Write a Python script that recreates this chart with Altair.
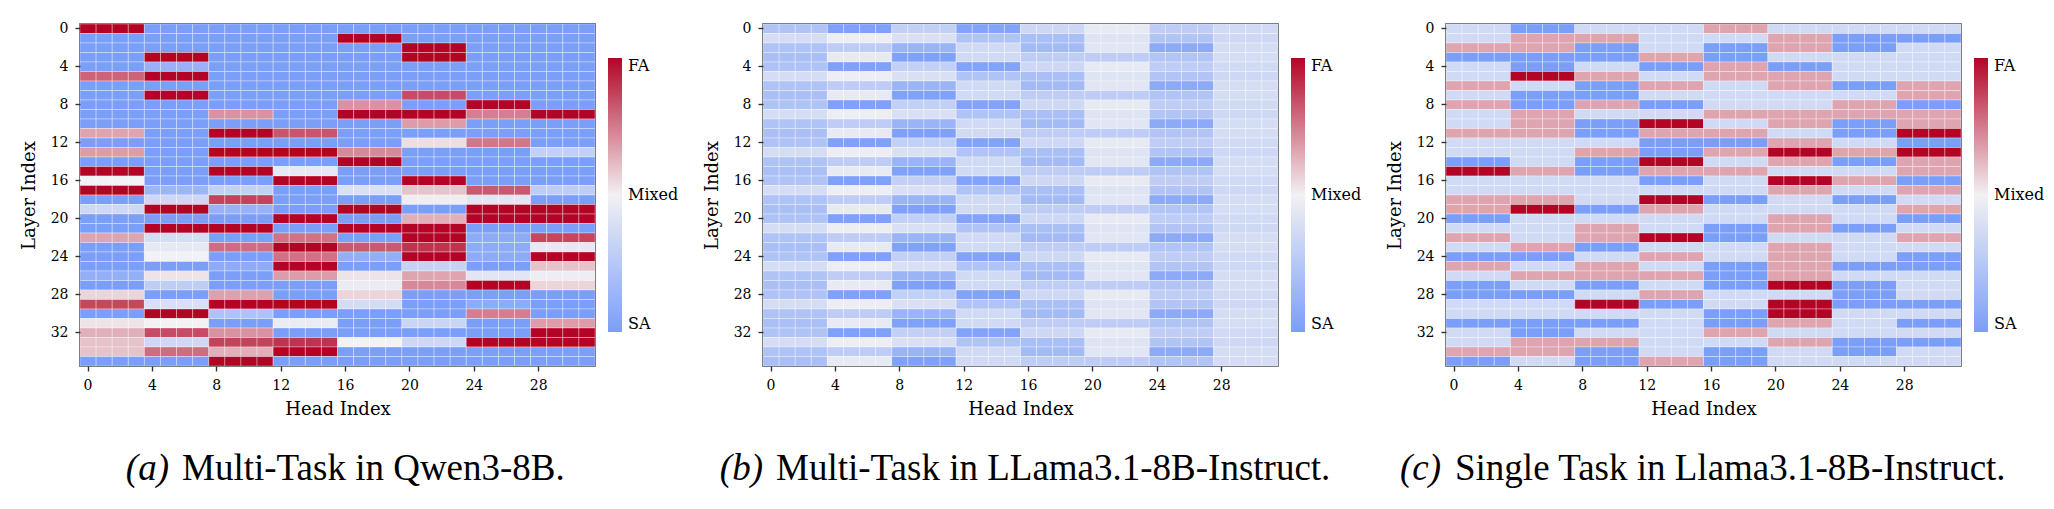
import pandas as pd
import altair as alt

# attention-type maps: 36 layers x 8 KV-head groups (4 query heads each)
# 0 = SA, 0.5 = Mixed, 1 = FA
N_LAYERS = 36
GROUP_SIZE = 4
HEAD_TICKS = [0, 4, 8, 12, 16, 20, 24, 28]
LAYER_TICKS = [0, 4, 8, 12, 16, 20, 24, 28, 32]

qwen_multi = [
    [1, 0, 0, 0, 0, 0, 0, 0],
    [0, 0, 0, 0, 1, 0, 0, 0],
    [0, 0, 0, 0, 0, 1, 0, 0],
    [0, 1, 0, 0, 0, 1, 0, 0],
    [0, 0.12, 0, 0, 0, 0, 0, 0],
    [0.8, 1, 0, 0, 0, 0, 0, 0],
    [0, 0, 0, 0, 0, 0, 0, 0],
    [0, 1, 0, 0, 0, 0.85, 0, 0],
    [0, 0, 0, 0, 0.7, 0, 1, 0],
    [0, 0, 0.7, 0, 1, 1, 0.74, 1],
    [0, 0, 0, 0, 0, 0.68, 0, 0],
    [0.66, 0, 1, 0.83, 0, 0, 0, 0],
    [0, 0, 0, 0, 0, 0.54, 0.76, 0],
    [0.68, 0, 1, 1, 0.72, 0, 0, 0.3],
    [0, 0, 0, 0, 1, 0, 0, 0],
    [1, 0, 1, 0.45, 0, 0, 0, 0],
    [0.5, 0, 0, 1, 0, 1, 0, 0],
    [1, 0.14, 0.3, 0, 0.4, 0.6, 0.82, 0.28],
    [0, 0.35, 0.87, 0, 0, 0.51, 0.43, 0],
    [0.35, 1, 0.12, 0, 1, 0, 1, 1],
    [0, 0, 0, 1, 0, 0.64, 1, 1],
    [0, 1, 1, 0, 1, 1, 0, 0],
    [0.66, 0.38, 0, 0.77, 0, 1, 0.08, 0.86],
    [0, 0.45, 0.78, 1, 0.82, 0.9, 0.08, 0.45],
    [0, 0.5, 0, 0.77, 0.1, 1, 0.08, 1],
    [0, 0, 0.08, 1, 0, 0.32, 0, 0.6],
    [0.1, 0.53, 0, 0.68, 0.53, 0.66, 0.43, 0.48],
    [0, 0.28, 0, 0, 0.47, 0.72, 1, 0.56],
    [0.56, 0, 0.67, 0, 0.56, 0, 0, 0],
    [0.86, 0.4, 1, 1, 0.37, 0, 0.08, 0],
    [0, 1, 0.22, 0, 0, 0, 0.74, 0],
    [0.53, 0.5, 0, 0.47, 0, 0.33, 0, 0.68],
    [0.64, 0.85, 0.7, 0, 0, 0, 0, 1],
    [0.6, 0.35, 0.87, 0.9, 0.5, 0.35, 1, 1],
    [0.6, 0.78, 0.64, 1, 0, 0, 0, 0],
    [0, 0, 1, 0, 0, 0, 0, 0],
]

llama_multi = [
    [0.22, 0.02, 0.3, 0.03, 0.35, 0.46, 0.28, 0.36],
    [0.38, 0.48, 0.4, 0.22, 0.2, 0.42, 0.23, 0.35],
    [0.22, 0.28, 0.13, 0.36, 0.17, 0.43, 0.07, 0.38],
    [0.2, 0.46, 0.02, 0.36, 0.28, 0.28, 0.23, 0.38],
    [0.22, 0.02, 0.3, 0.03, 0.35, 0.46, 0.28, 0.36],
    [0.38, 0.48, 0.4, 0.22, 0.2, 0.42, 0.23, 0.35],
    [0.22, 0.28, 0.13, 0.36, 0.17, 0.43, 0.07, 0.38],
    [0.2, 0.46, 0.02, 0.36, 0.28, 0.28, 0.23, 0.38],
    [0.22, 0.02, 0.3, 0.03, 0.35, 0.46, 0.28, 0.36],
    [0.38, 0.48, 0.4, 0.22, 0.2, 0.42, 0.23, 0.35],
    [0.22, 0.28, 0.13, 0.36, 0.17, 0.43, 0.07, 0.38],
    [0.2, 0.46, 0.02, 0.36, 0.28, 0.28, 0.23, 0.38],
    [0.22, 0.02, 0.3, 0.03, 0.35, 0.46, 0.28, 0.36],
    [0.38, 0.48, 0.4, 0.22, 0.2, 0.42, 0.23, 0.35],
    [0.22, 0.28, 0.13, 0.36, 0.17, 0.43, 0.07, 0.38],
    [0.2, 0.46, 0.02, 0.36, 0.28, 0.28, 0.23, 0.38],
    [0.22, 0.02, 0.3, 0.03, 0.35, 0.46, 0.28, 0.36],
    [0.38, 0.48, 0.4, 0.22, 0.2, 0.42, 0.23, 0.35],
    [0.22, 0.28, 0.13, 0.36, 0.17, 0.43, 0.07, 0.38],
    [0.2, 0.46, 0.02, 0.36, 0.28, 0.28, 0.23, 0.38],
    [0.22, 0.02, 0.3, 0.03, 0.35, 0.46, 0.28, 0.36],
    [0.38, 0.48, 0.4, 0.22, 0.2, 0.42, 0.23, 0.35],
    [0.22, 0.28, 0.13, 0.36, 0.17, 0.43, 0.07, 0.38],
    [0.2, 0.46, 0.02, 0.36, 0.28, 0.28, 0.23, 0.38],
    [0.22, 0.02, 0.3, 0.03, 0.35, 0.46, 0.28, 0.36],
    [0.38, 0.48, 0.4, 0.22, 0.2, 0.42, 0.23, 0.35],
    [0.22, 0.28, 0.13, 0.36, 0.17, 0.43, 0.07, 0.38],
    [0.2, 0.46, 0.02, 0.36, 0.28, 0.28, 0.23, 0.38],
    [0.22, 0.02, 0.3, 0.03, 0.35, 0.46, 0.28, 0.36],
    [0.38, 0.48, 0.4, 0.22, 0.2, 0.42, 0.23, 0.35],
    [0.22, 0.28, 0.13, 0.36, 0.17, 0.43, 0.07, 0.38],
    [0.2, 0.46, 0.02, 0.36, 0.28, 0.28, 0.23, 0.38],
    [0.22, 0.02, 0.3, 0.03, 0.35, 0.46, 0.28, 0.36],
    [0.38, 0.48, 0.4, 0.22, 0.2, 0.42, 0.23, 0.35],
    [0.22, 0.28, 0.13, 0.36, 0.17, 0.43, 0.07, 0.38],
    [0.2, 0.46, 0.02, 0.36, 0.28, 0.28, 0.23, 0.38],
]

llama_single = [
    [0.36, 0, 0.36, 0.36, 0.66, 0.36, 0.36, 0.36],
    [0.36, 0.66, 0.66, 0.36, 0.36, 0.66, 0, 0],
    [0.66, 0.66, 0, 0.36, 0, 0.66, 0, 0.36],
    [0, 0, 0, 0.66, 0, 0.36, 0.36, 0.36],
    [0.36, 0, 0.36, 0, 0.66, 0, 0.36, 0.36],
    [0.36, 1, 0.66, 0.36, 0.66, 0.66, 0.36, 0.36],
    [0.66, 0.36, 0, 0.66, 0.36, 0.66, 0, 0.66],
    [0.36, 0, 0, 0.36, 0.36, 0.36, 0.36, 0.66],
    [0.66, 0, 0.66, 0, 0.36, 0.36, 0.66, 0],
    [0.36, 0.66, 0.36, 0.36, 0.66, 0.66, 0.66, 0.66],
    [0.36, 0.66, 0, 1, 0.36, 0.66, 0, 0.66],
    [0.66, 0.66, 0, 0.66, 0.66, 0.36, 0, 1],
    [0.36, 0.36, 0.36, 0, 0, 0.66, 0.36, 0],
    [0.36, 0.36, 0.66, 0, 0.66, 1, 0.66, 1],
    [0, 0.36, 0, 1, 0.36, 0.66, 0, 0.66],
    [1, 0.66, 0, 0.66, 0.66, 0.36, 0.36, 0.66],
    [0.36, 0.36, 0.36, 0, 0.36, 1, 0.66, 0],
    [0.36, 0.36, 0.36, 0.36, 0.36, 0.66, 0.36, 0.66],
    [0.66, 0.66, 0.36, 1, 0, 0.36, 0, 0.36],
    [0.66, 1, 0, 0.66, 0.36, 0.36, 0.36, 0.66],
    [0, 0.36, 0.36, 0.36, 0.36, 0.66, 0.36, 0],
    [0.36, 0.36, 0.66, 0.36, 0, 0.66, 0, 0.36],
    [0.66, 0.36, 0.66, 1, 0, 0.36, 0.36, 0.66],
    [0.36, 0.66, 0, 0.36, 0.36, 0.66, 0.36, 0.36],
    [0, 0, 0.36, 0.66, 0.36, 0.66, 0.36, 0],
    [0.66, 0.36, 0.66, 0.36, 0, 0.66, 0, 0],
    [0.36, 0.66, 0.66, 0.66, 0, 0.66, 0.36, 0.36],
    [0, 0.36, 0, 0.36, 0, 1, 0, 0.36],
    [0, 0, 0.36, 0.66, 0.36, 0.36, 0, 0.36],
    [0.36, 0.36, 1, 0, 0.36, 1, 0, 0],
    [0.36, 0.36, 0.36, 0.36, 0, 1, 0.36, 0.36],
    [0, 0, 0, 0.36, 0, 0.66, 0.36, 0],
    [0.36, 0, 0.36, 0.36, 0.66, 0.36, 0.36, 0.36],
    [0.36, 0.66, 0.66, 0.36, 0.36, 0.66, 0, 0],
    [0.66, 0.66, 0, 0.36, 0, 0.36, 0, 0.36],
    [0, 0.36, 0, 0.66, 0, 0.36, 0.36, 0.36],
]

tags = ["(a)", "(b)", "(c)"]
captions = [
    "Multi-Task in Qwen3-8B.",
    "Multi-Task in LLama3.1-8B-Instruct.",
    "Single Task in Llama3.1-8B-Instruct.",
]

W, H = 515, 342
AXIS_FONT = "DejaVu Serif"
CAP_FONT = "Liberation Serif"

cmap = alt.Scale(domain=[0, 0.5, 1], range=["#7b9ef9", "#f2f1f3", "#b40426"],
                 interpolate="rgb")


def to_long(rows):
    recs = []
    for layer, row in enumerate(rows):
        for g, v in enumerate(row):
            for k in range(GROUP_SIZE):
                recs.append({"layer": layer, "head": g * GROUP_SIZE + k, "value": v})
    return pd.DataFrame(recs)


def panel(rows, tag, caption, tag_end, text_start):
    cells = alt.Chart(to_long(rows)).mark_rect(
        stroke="white", strokeWidth=0.6, strokeOpacity=0.55
    ).encode(
        x=alt.X("head:O", scale=alt.Scale(paddingInner=0, paddingOuter=0),
                axis=alt.Axis(values=HEAD_TICKS, labelAngle=0, title="Head Index",
                              titleX=W / 2, titleY=43, titleBaseline="middle")),
        y=alt.Y("layer:O", scale=alt.Scale(paddingInner=0, paddingOuter=0),
                axis=alt.Axis(values=LAYER_TICKS, title="Layer Index",
                              titleX=-51, titleY=H / 2, titleAngle=-90,
                              titleBaseline="middle", titleAlign="center")),
        color=alt.Color(
            "value:Q", scale=cmap,
            legend=alt.Legend(
                title=None, orient="none", legendX=528, legendY=34,
                direction="vertical", gradientLength=274, gradientThickness=14,
                gradientStrokeWidth=0, values=[0, 0.5, 1],
                labelExpr="datum.value == 1 ? 'FA' : (datum.value == 0.5 ? 'Mixed' : 'SA')",
                labelFont=AXIS_FONT, labelFontSize=16, labelColor="black",
                labelOffset=6, labelBaseline="middle", labelOverlap=False,
                padding=0,
            ),
        ),
    )

    tag_text = alt.Chart(pd.DataFrame({"t": [tag]})).mark_text(
        font=CAP_FONT, fontSize=37, fontStyle="italic", align="right",
        baseline="alphabetic", color="black"
    ).encode(text="t:N", x=alt.value(tag_end), y=alt.value(456))

    cap_text = alt.Chart(pd.DataFrame({"t": [caption]})).mark_text(
        font=CAP_FONT, fontSize=37, align="left", baseline="alphabetic", color="black"
    ).encode(text="t:N", x=alt.value(text_start), y=alt.value(456))

    return alt.layer(cells, tag_text, cap_text).properties(width=W, height=H)


chart = alt.hconcat(
    panel(qwen_multi, tags[0], captions[0], 89, 102),
    panel(llama_multi, tags[1], captions[1], 0, 13),
    panel(llama_single, tags[2], captions[2], -5, 9),
    spacing=22,
).resolve_scale(color="independent").resolve_legend(color="independent").properties(
    padding={"left": 11, "top": 12, "right": 0, "bottom": 0}
).configure_view(
    stroke="#333", strokeWidth=1.5
).configure_axis(
    labelFont=AXIS_FONT, labelFontSize=14, labelColor="black", labelPadding=7,
    titleFont=AXIS_FONT, titleFontSize=18, titleFontWeight="normal", titleColor="black",
    tickSize=5, tickWidth=1.4, tickColor="#333", domain=False, grid=False,
)

chart.save("out.html", embed_options={"renderer": "svg", "actions": False})
